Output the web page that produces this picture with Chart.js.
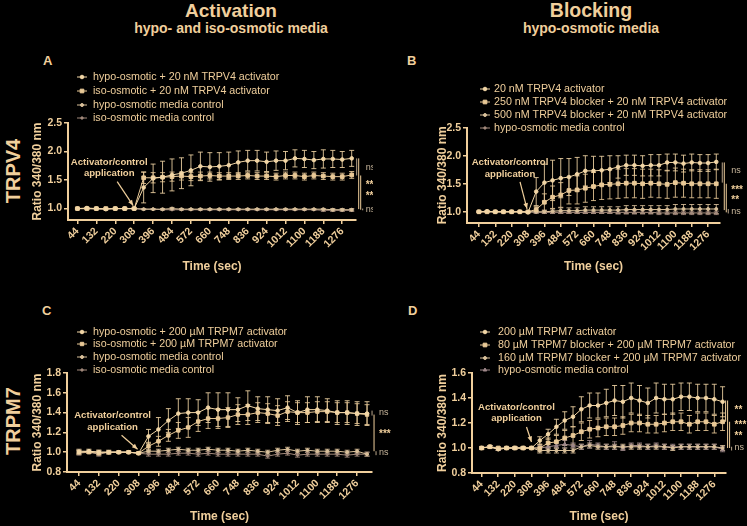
<!DOCTYPE html>
<html><head><meta charset="utf-8">
<script src="https://cdn.jsdelivr.net/npm/chart.js@4"></script>
<style>
html,body{margin:0;padding:0;background:#000;}
#wrap{position:relative;width:747px;height:526px;overflow:hidden;background:#000;font-family:"Liberation Sans",Arial,sans-serif;color:#f0cf9c;}
canvas{position:absolute;}
.t{position:absolute;white-space:nowrap;font-weight:bold;line-height:1;}
.c{transform:translateX(-50%);}
.rot{transform:translate(-50%,-50%) rotate(-90deg);}
</style></head><body><div id="wrap">
<div class="t c" style="left:231px;top:1px;font-size:19px">Activation</div>
<div class="t c" style="left:231px;top:21px;font-size:14px">hypo- and iso-osmotic media</div>
<div class="t c" style="left:591px;top:1px;font-size:19.5px">Blocking</div>
<div class="t c" style="left:591px;top:21px;font-size:14px">hypo-osmotic media</div>
<div class="t" style="left:43px;top:54px;font-size:13px">A</div>
<div class="t" style="left:407px;top:54px;font-size:13px">B</div>
<div class="t" style="left:42px;top:304px;font-size:13px">C</div>
<div class="t" style="left:408px;top:304px;font-size:13px">D</div>
<div class="t rot" style="left:13px;top:171px;font-size:20px">TRPV4</div>
<div class="t rot" style="left:13px;top:421px;font-size:20px">TRPM7</div>
<canvas id="cA" width="373" height="245" style="left:0;top:40px"></canvas>
<canvas id="cB" width="374" height="245" style="left:373px;top:40px"></canvas>
<canvas id="cC" width="400" height="241" style="left:0;top:285px"></canvas>
<canvas id="cD" width="374" height="241" style="left:373px;top:285px"></canvas>
</div>
<script>
// ---------- DATA ----------
const times = [44,88,132,176,220,264,308,352,396,440,484,528,572,616,660,704,748,792,836,880,924,968,1012,1056,1100,1144,1188,1232,1276,1320];
const xTickLabels = [44,132,220,308,396,484,572,660,748,836,924,1012,1100,1188,1276];
const yTicksV4 = [1.0,1.5,2.0,2.5];
const yTicksM7C = [0.8,1.0,1.2,1.4,1.6,1.8];
const yTicksM7D = [0.8,1.0,1.2,1.4,1.6];

const legendA = ['hypo-osmotic + 20 nM TRPV4 activator','iso-osmotic + 20 nM TRPV4 activator','hypo-osmotic media control','iso-osmotic media control'];
const legendB = ['20 nM TRPV4 activator','250 nM TRPV4 blocker + 20 nM TRPV4 activator','500 nM TRPV4 blocker + 20 nM TRPV4 activator','hypo-osmotic media control'];
const legendC = ['hypo-osmotic + 200 \u00b5M TRPM7 activator','iso-osmotic + 200 \u00b5M TRPM7 activator','hypo-osmotic media control','iso-osmotic media control'];
const legendD = ['200 \u00b5M TRPM7 activator','80 \u00b5M TRPM7 blocker + 200 \u00b5M TRPM7 activator','160 \u00b5M TRPM7 blocker + 200 \u00b5M TRPM7 activator','hypo-osmotic media control'];

// Panel A (TRPV4 activation)
const A_hypoAct    = [1.00,1.01,1.00,0.99,1.00,1.00,1.00,1.37,1.53,1.55,1.59,1.62,1.67,1.74,1.73,1.74,1.76,1.81,1.84,1.84,1.82,1.84,1.84,1.88,1.87,1.85,1.87,1.87,1.86,1.88];
const A_hypoActErr = [0.01,0.01,0.01,0.01,0.01,0.01,0.01,0.27,0.25,0.28,0.28,0.27,0.27,0.25,0.25,0.24,0.23,0.20,0.18,0.18,0.17,0.17,0.16,0.15,0.15,0.15,0.16,0.15,0.14,0.14];
const A_isoAct     = [1.00,1.00,1.00,1.00,1.00,1.00,1.00,1.54,1.54,1.55,1.56,1.57,1.56,1.57,1.58,1.57,1.57,1.57,1.58,1.57,1.57,1.56,1.58,1.58,1.56,1.58,1.57,1.56,1.56,1.59];
const A_isoActErr  = [0.01,0.01,0.01,0.01,0.01,0.01,0.01,0.10,0.09,0.08,0.08,0.07,0.07,0.07,0.06,0.06,0.06,0.06,0.06,0.06,0.06,0.06,0.06,0.06,0.06,0.06,0.06,0.06,0.06,0.06];
const A_hypoCtrl   = [1.00,1.00,1.00,1.00,1.00,1.00,1.00,0.99,0.99,0.99,1.00,0.99,0.99,0.99,0.99,0.99,0.99,0.99,0.99,0.99,0.99,0.99,0.99,0.99,0.99,0.99,0.99,0.98,0.98,0.98];
const A_hypoCtrlErr= [0.01,0.01,0.01,0.01,0.01,0.01,0.01,0.01,0.01,0.01,0.02,0.01,0.01,0.01,0.01,0.01,0.01,0.01,0.01,0.01,0.01,0.01,0.01,0.01,0.01,0.01,0.01,0.02,0.02,0.02];
const A_isoCtrl    = [1.00,1.00,0.99,0.99,1.00,1.00,1.00,0.99,0.99,0.98,0.98,0.98,0.98,0.98,0.98,0.98,0.98,0.98,0.98,0.98,0.98,0.98,0.98,0.98,0.98,0.98,0.97,0.97,0.97,0.97];
const A_isoCtrlErr = [0.01,0.01,0.01,0.01,0.01,0.01,0.01,0.01,0.01,0.01,0.01,0.01,0.01,0.01,0.01,0.01,0.01,0.01,0.01,0.01,0.01,0.01,0.01,0.01,0.01,0.01,0.02,0.02,0.02,0.02];

// Panel B (TRPV4 blocking)
const B_act        = [1.00,1.01,1.00,1.00,1.00,1.00,0.99,1.36,1.52,1.56,1.60,1.62,1.67,1.73,1.73,1.74,1.76,1.80,1.83,1.83,1.82,1.83,1.83,1.88,1.88,1.86,1.88,1.87,1.87,1.89];
const B_actErr     = [0.01,0.01,0.01,0.01,0.01,0.01,0.01,0.25,0.33,0.36,0.35,0.33,0.30,0.27,0.26,0.25,0.24,0.20,0.18,0.18,0.18,0.19,0.19,0.15,0.15,0.15,0.15,0.15,0.15,0.14];
const B_blk250     = [1.00,1.00,1.00,1.00,1.00,1.00,1.00,1.04,1.17,1.26,1.30,1.38,1.39,1.42,1.45,1.48,1.49,1.50,1.51,1.51,1.50,1.51,1.50,1.49,1.52,1.51,1.50,1.50,1.50,1.50];
const B_blk250Err  = [0.01,0.01,0.01,0.01,0.01,0.01,0.01,0.05,0.15,0.20,0.22,0.24,0.25,0.25,0.25,0.26,0.26,0.26,0.26,0.26,0.26,0.25,0.25,0.25,0.26,0.25,0.25,0.25,0.25,0.26];
const B_blk500     = [1.00,1.00,1.00,1.00,1.00,1.00,1.00,1.00,1.00,1.01,1.02,1.02,1.02,1.03,1.03,1.03,1.03,1.03,1.04,1.04,1.04,1.04,1.04,1.04,1.05,1.05,1.05,1.05,1.05,1.05];
const B_blk500Err  = [0.01,0.01,0.01,0.01,0.01,0.01,0.01,0.02,0.03,0.04,0.05,0.05,0.05,0.06,0.06,0.06,0.06,0.06,0.07,0.07,0.07,0.07,0.07,0.07,0.08,0.08,0.08,0.08,0.08,0.08];
const B_ctrl       = [1.00,1.00,1.00,1.00,1.00,1.00,1.00,0.99,0.99,0.99,0.99,0.99,0.99,0.99,0.99,0.99,0.99,0.99,0.99,0.99,0.99,0.99,0.98,0.98,0.98,0.98,0.98,0.98,0.98,0.98];
const B_ctrlErr    = [0.01,0.01,0.01,0.01,0.01,0.01,0.01,0.02,0.02,0.02,0.02,0.02,0.02,0.02,0.02,0.02,0.02,0.03,0.03,0.03,0.03,0.03,0.03,0.03,0.03,0.03,0.03,0.03,0.03,0.03];

// Panel C (TRPM7 activation)
const C_hypoAct    = [1.00,1.01,1.00,1.00,1.00,1.00,0.99,1.16,1.23,1.32,1.39,1.40,1.40,1.45,1.43,1.43,1.43,1.47,1.44,1.43,1.42,1.45,1.40,1.43,1.43,1.42,1.40,1.40,1.39,1.39];
const C_hypoActErr = [0.02,0.02,0.02,0.02,0.01,0.01,0.01,0.07,0.12,0.12,0.15,0.14,0.13,0.15,0.17,0.17,0.12,0.15,0.12,0.13,0.12,0.12,0.12,0.13,0.13,0.12,0.12,0.12,0.12,0.12];
const C_isoAct     = [1.00,1.00,0.99,1.00,1.00,1.00,0.99,1.06,1.11,1.17,1.22,1.25,1.31,1.34,1.34,1.35,1.38,1.38,1.40,1.39,1.37,1.41,1.40,1.40,1.41,1.41,1.40,1.40,1.39,1.38];
const C_isoActErr  = [0.02,0.01,0.02,0.01,0.01,0.01,0.01,0.04,0.05,0.06,0.08,0.10,0.10,0.10,0.10,0.10,0.10,0.10,0.10,0.10,0.10,0.10,0.10,0.10,0.10,0.10,0.10,0.10,0.10,0.10];
const C_hypoCtrl   = [1.01,1.01,1.00,1.00,1.00,1.00,0.99,1.01,1.01,1.02,1.03,1.02,1.02,1.03,1.02,1.02,1.01,1.02,1.01,1.00,1.02,1.03,1.01,1.02,1.01,1.01,1.01,1.00,1.01,0.98];
const C_hypoCtrlErr= [0.02,0.01,0.02,0.01,0.01,0.01,0.01,0.02,0.02,0.02,0.02,0.02,0.02,0.02,0.02,0.02,0.02,0.02,0.02,0.02,0.02,0.02,0.02,0.02,0.02,0.02,0.02,0.02,0.02,0.02];
const C_isoCtrl    = [0.99,1.00,0.98,1.00,1.00,1.00,0.99,0.98,0.98,0.98,0.99,0.99,0.98,0.99,0.98,0.98,0.98,0.98,0.98,0.96,0.98,0.99,0.97,0.98,0.98,0.98,0.98,0.97,0.98,0.98];
const C_isoCtrlErr = [0.02,0.01,0.02,0.01,0.01,0.01,0.01,0.02,0.02,0.02,0.02,0.02,0.02,0.02,0.02,0.02,0.02,0.02,0.02,0.02,0.02,0.02,0.02,0.02,0.02,0.02,0.02,0.02,0.02,0.02];

// Panel D (TRPM7 blocking)
const D_act        = [1.00,1.01,0.99,1.00,1.00,1.00,1.00,1.06,1.11,1.17,1.22,1.25,1.31,1.34,1.34,1.36,1.38,1.37,1.40,1.38,1.36,1.40,1.39,1.39,1.41,1.41,1.40,1.40,1.39,1.37];
const D_actErr     = [0.01,0.01,0.01,0.01,0.01,0.01,0.01,0.03,0.04,0.06,0.07,0.08,0.10,0.10,0.10,0.11,0.12,0.13,0.12,0.12,0.12,0.12,0.12,0.12,0.11,0.11,0.11,0.11,0.12,0.12];
const D_blk80      = [1.00,1.01,1.00,1.00,1.00,1.00,1.00,1.00,1.04,1.05,1.08,1.10,1.13,1.15,1.16,1.17,1.17,1.18,1.20,1.20,1.19,1.19,1.20,1.21,1.21,1.19,1.21,1.21,1.19,1.21];
const D_blk80Err   = [0.01,0.01,0.01,0.01,0.01,0.01,0.01,0.03,0.04,0.05,0.06,0.07,0.07,0.07,0.07,0.07,0.07,0.07,0.07,0.07,0.07,0.07,0.07,0.07,0.07,0.07,0.07,0.07,0.07,0.07];
const D_blk160     = [1.00,1.01,0.99,1.00,1.00,1.00,1.00,0.98,0.98,0.98,0.98,0.98,1.01,1.02,1.01,1.01,1.01,1.01,1.01,1.01,1.01,1.01,1.01,1.00,1.01,1.01,1.01,1.01,1.01,1.00];
const D_blk160Err  = [0.01,0.01,0.01,0.01,0.01,0.01,0.01,0.02,0.02,0.02,0.02,0.02,0.02,0.02,0.02,0.02,0.02,0.02,0.02,0.02,0.02,0.02,0.02,0.02,0.02,0.02,0.02,0.02,0.02,0.02];
const D_ctrl       = [1.00,1.01,0.99,1.00,1.00,1.00,1.00,1.00,1.01,1.02,1.03,1.02,1.01,1.03,1.02,1.01,1.02,1.00,1.02,1.02,1.01,1.02,1.01,1.01,1.01,1.01,1.01,1.01,1.01,0.99];
const D_ctrlErr    = [0.01,0.01,0.01,0.01,0.01,0.01,0.01,0.02,0.02,0.02,0.03,0.02,0.02,0.03,0.02,0.02,0.03,0.02,0.02,0.02,0.02,0.02,0.02,0.02,0.02,0.02,0.02,0.02,0.02,0.02];

// significance brackets: [from, to, label, label position]
const sigA = [[1.88,1.58,'ns',1.72],[1.88,0.99,'***',1.44],[1.58,0.98,'**',1.25],[1.00,0.97,'ns',0.99]];
const sigB = [[1.88,1.52,'ns',1.745],[1.88,1.03,'***',1.42],[1.50,0.99,'**',1.245],[1.05,0.97,'ns',1.01]];
const sigC = [[1.42,1.37,'ns',1.40],[1.38,1.01,'***',1.20],[1.01,0.97,'ns',1.00]];
const sigD = [[1.38,1.21,'**',1.32],[1.38,1.00,'***',1.20],[1.21,1.00,'**',1.11],[1.01,0.98,'ns',1.00]];

const noteLines = ['Activator/control','application'];
const noteAt = [308, 1.0];

// ---------- RENDERING ----------
const TAN = '#f0cf9c';
const F = '"Liberation Sans", Arial, sans-serif';

function makePanel(id, cfg) {
  const datasets = cfg.series.map((vals, i) => ({
    label: cfg.legend[i],
    data: vals.map((v, k) => ({x: times[k], y: v})),
    errors: cfg.errs[i],
    borderColor: cfg.colors[i], backgroundColor: cfg.colors[i],
    borderWidth: 1, pointStyle: cfg.styles[i], pointRadius: cfg.radii[i],
    pointBorderWidth: 1, pointHoverRadius: cfg.radii[i], tension: 0, fill: false
  }));
  const errPlugin = {
    id: 'errbars',
    beforeDatasetsDraw(chart) {
      const {ctx, scales: {x, y}} = chart;
      ctx.save();
      chart.data.datasets.forEach(ds => {
        ctx.strokeStyle = ds.borderColor; ctx.lineWidth = 1; ctx.globalAlpha = 0.85;
        ds.data.forEach((p, i) => {
          const e = ds.errors[i];
          const px = x.getPixelForValue(p.x);
          const y1 = y.getPixelForValue(p.y + e), y2 = y.getPixelForValue(p.y - e);
          ctx.beginPath();
          ctx.moveTo(px, y1); ctx.lineTo(px, y2);
          ctx.moveTo(px - 2.5, y1); ctx.lineTo(px + 2.5, y1);
          ctx.moveTo(px - 2.5, y2); ctx.lineTo(px + 2.5, y2);
          ctx.stroke();
        });
      });
      ctx.restore();
    }
  };
  const extras = {
    id: 'extras',
    afterDraw(chart) {
      const {ctx, scales: {x, y}} = chart;
      ctx.save();
      // legend
      const L = cfg.leg;
      ctx.font = '10.7px ' + F; ctx.textBaseline = 'middle'; ctx.textAlign = 'left';
      cfg.legend.forEach((lab, i) => {
        const ly = L.ys[i];
        ctx.strokeStyle = cfg.colors[i]; ctx.fillStyle = cfg.colors[i]; ctx.lineWidth = 1;
        ctx.beginPath(); ctx.moveTo(L.mx - 5, ly); ctx.lineTo(L.mx + 5, ly); ctx.stroke();
        Chart.helpers.drawPoint(ctx, {pointStyle: cfg.styles[i], radius: cfg.radii[i], rotation: 0, borderWidth: 1}, L.mx, ly);
        ctx.fillStyle = TAN;
        ctx.fillText(lab, L.tx, ly);
      });
      // annotation
      const N = cfg.note;
      const px = x.getPixelForValue(noteAt[0]), py = y.getPixelForValue(noteAt[1]);
      ctx.font = 'bold 9.6px ' + F; ctx.textAlign = 'center'; ctx.fillStyle = TAN;
      ctx.fillText(noteLines[0], px + N.dx, py + N.dy1);
      ctx.fillText(noteLines[1], px + N.dx, py + N.dy2);
      const x1 = px + N.ax1, y1 = py + N.ay1, x2 = px + N.ax2, y2 = py + N.ay2;
      ctx.strokeStyle = TAN; ctx.lineWidth = 1.2;
      ctx.beginPath(); ctx.moveTo(x1, y1); ctx.lineTo(x2, y2); ctx.stroke();
      const a = Math.atan2(y2 - y1, x2 - x1), h = 6;
      ctx.beginPath(); ctx.moveTo(x2, y2);
      ctx.lineTo(x2 - h * Math.cos(a - 0.4), y2 - h * Math.sin(a - 0.4));
      ctx.lineTo(x2 - h * Math.cos(a + 0.4), y2 - h * Math.sin(a + 0.4));
      ctx.closePath(); ctx.fill();
      // significance
      const base = x.getPixelForValue(times[times.length - 1]) + cfg.sigDx;
      const n = cfg.sig.length;
      cfg.sig.forEach((s, i) => {
        const lx = base + i * 2;
        ctx.strokeStyle = (s[2] === 'ns') ? '#b9a58a' : TAN; ctx.lineWidth = 1;
        ctx.beginPath(); ctx.moveTo(lx, y.getPixelForValue(s[0])); ctx.lineTo(lx, y.getPixelForValue(s[1])); ctx.stroke();
      });
      const tx = base + n * 2 + 1;
      ctx.textAlign = 'left'; ctx.textBaseline = 'middle';
      cfg.sig.forEach(s => {
        if (s[2] === 'ns') { ctx.font = '9px ' + F; ctx.fillStyle = '#c9b79c'; }
        else { ctx.font = 'bold 10px ' + F; ctx.fillStyle = TAN; }
        ctx.fillText(s[2], tx, y.getPixelForValue(s[3]) + (s[2] === 'ns' ? 0 : 2));
      });
      ctx.restore();
    }
  };
  new Chart(document.getElementById(id), {
    type: 'line',
    data: {datasets},
    options: {
      responsive: false, animation: false, events: [],
      layout: {padding: cfg.pad},
      plugins: {legend: {display: false}, tooltip: {enabled: false}},
      scales: {
        x: {
          type: 'linear', min: cfg.xMin, max: cfg.xMax,
          afterBuildTicks: s => { s.ticks = xTickLabels.map(v => ({value: v})); },
          afterFit: s => { s.height = cfg.xH; },
          ticks: {autoSkip: false, minRotation: 45, maxRotation: 45, color: TAN, padding: 1,
                  font: {family: F, size: 10.5, weight: 'bold'}, callback: v => String(v)},
          grid: {display: true, drawOnChartArea: false, drawTicks: true, tickLength: 4, color: TAN, lineWidth: 1.5},
          border: {display: true, color: TAN, width: 2},
          title: {display: true, text: 'Time (sec)', color: TAN, font: {family: F, size: 12, weight: 'bold'},
                  padding: {top: 0, bottom: cfg.xTitlePad}}
        },
        y: {
          type: 'linear', min: cfg.yMin, max: cfg.yMax,
          afterBuildTicks: s => { s.ticks = cfg.yTicks.map(v => ({value: v})); },
          afterFit: s => { s.width = cfg.yW; },
          ticks: {color: TAN, padding: 2, font: {family: F, size: 10.5, weight: 'bold'}, callback: v => v.toFixed(1)},
          grid: {display: true, drawOnChartArea: false, drawTicks: true, tickLength: 4, color: TAN, lineWidth: 1.5},
          border: {display: true, color: TAN, width: 2},
          title: {display: true, text: 'Ratio 340/380 nm', color: TAN, font: {family: F, size: 12, weight: 'bold'},
                  padding: {top: cfg.yTitlePad, bottom: 0}}
        }
      }
    },
    plugins: [errPlugin, extras]
  });
}

const COLS = ['#f2d6a6', '#e9c997', '#d9c09a', '#a38a7c'];

makePanel('cA', {
  series: [A_hypoAct, A_isoAct, A_hypoCtrl, A_isoCtrl],
  errs: [A_hypoActErr, A_isoActErr, A_hypoCtrlErr, A_isoCtrlErr],
  legend: legendA, colors: COLS,
  styles: ['circle', 'rect', 'circle', 'circle'], radii: [1.8, 2.6, 1.5, 1.2],
  pad: {top: 83, right: 17, left: 0, bottom: 0}, yW: 68, xH: 65, xTitlePad: 10.8, yTitlePad: 30.8,
  xMin: 0, xMax: 1340, yMin: 0.8, yMax: 2.5, yTicks: yTicksV4,
  leg: {mx: 82, tx: 93, ys: [37, 51, 65, 78]},
  note: {dx: -25, dy1: -46, dy2: -35, ax1: -17, ay1: -27, ax2: -1, ay2: -3},
  sig: sigA, sigDx: 5
});
makePanel('cB', {
  series: [B_act, B_blk250, B_blk500, B_ctrl],
  errs: [B_actErr, B_blk250Err, B_blk500Err, B_ctrlErr],
  legend: legendB, colors: COLS,
  styles: ['circle', 'rect', 'circle', 'circle'], radii: [1.8, 2.6, 1.5, 1.2],
  pad: {top: 87.7, right: 27, left: 0, bottom: 0}, yW: 94, xH: 62, xTitlePad: 10.8, yTitlePad: 62.8,
  xMin: -20, xMax: 1340, yMin: 0.8, yMax: 2.5, yTicks: yTicksV4,
  leg: {mx: 112, tx: 121, ys: [49, 62, 75, 88]},
  note: {dx: -18, dy1: -49, dy2: -37, ax1: -8, ay1: -30, ax2: -1, ay2: -3},
  sig: sigB, sigDx: 6
});
makePanel('cC', {
  series: [C_hypoAct, C_isoAct, C_hypoCtrl, C_isoCtrl],
  errs: [C_hypoActErr, C_isoActErr, C_hypoCtrlErr, C_isoCtrlErr],
  legend: legendC, colors: COLS,
  styles: ['circle', 'rect', 'circle', 'circle'], radii: [1.8, 2.4, 1.5, 1.2],
  pad: {top: 88, right: 28, left: 0, bottom: 0}, yW: 67, xH: 54, xTitlePad: 1.8, yTitlePad: 30.8,
  xMin: -9, xMax: 1342, yMin: 0.8, yMax: 1.8, yTicks: yTicksM7C,
  leg: {mx: 82, tx: 93, ys: [47, 59, 72, 85]},
  note: {dx: -26, dy1: -37, dy2: -25, ax1: -17, ay1: -17, ax2: -1, ay2: -3},
  sig: sigC, sigDx: 5
});
makePanel('cD', {
  series: [D_act, D_blk80, D_blk160, D_ctrl],
  errs: [D_actErr, D_blk80Err, D_blk160Err, D_ctrlErr],
  legend: legendD, colors: ['#f2d6a6', '#e9c997', '#d9c09a', '#9f888a'],
  styles: ['circle', 'rect', 'circle', 'triangle'], radii: [1.8, 2.6, 1.5, 2],
  pad: {top: 88, right: 21, left: 0, bottom: 0}, yW: 99, xH: 53, xTitlePad: 1.8, yTitlePad: 62.8,
  xMin: -7, xMax: 1338, yMin: 0.8, yMax: 1.6, yTicks: yTicksM7D,
  leg: {mx: 112, tx: 125, ys: [47, 60, 73, 85]},
  note: {dx: -15, dy1: -41, dy2: -30, ax1: -5, ay1: -21, ax2: 0, ay2: -6},
  sig: sigD, sigDx: 3
});
</script>
</body></html>
